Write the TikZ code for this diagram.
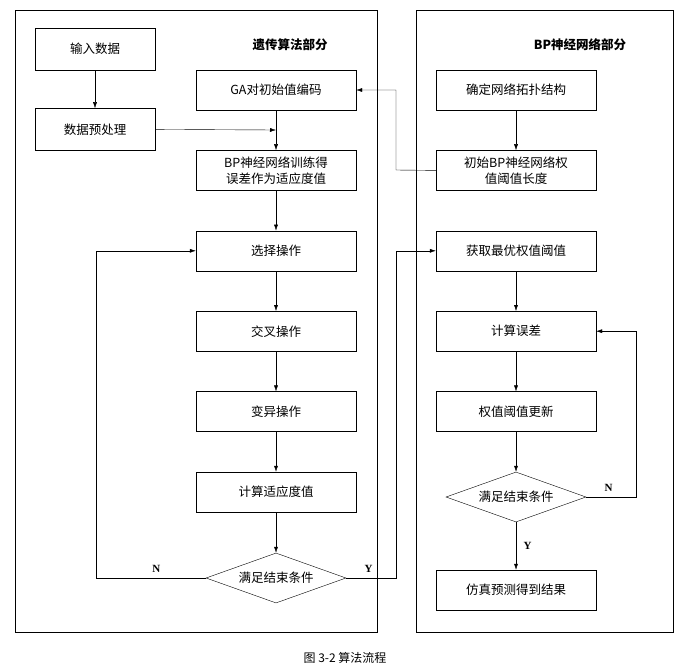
\documentclass[tikz,border=0pt]{standalone}
\usepackage{fontspec}
\setmainfont{Liberation Serif}
\newfontfamily\cjk{Noto Sans CJK SC}
\usetikzlibrary{positioning,shapes.geometric,arrows.meta}
\tikzset{
  step box/.style = {
    shape = rectangle,
    draw,
    fill = white,
    text centered,
    minimum width = 160pt,
    minimum height = 40pt,
    inner sep = 1pt,
    font = \cjk\fontsize{12.5}{16}\selectfont,
    },
  small box/.style = {step box, minimum width = 120pt, minimum height = 42pt},
  test/.style = {
    shape = diamond,
    draw,
    fill = white,
    aspect = 2.8,
    inner sep = 0pt,
    minimum width = 140pt,
    minimum height = 50pt,
    font = \cjk\fontsize{12.5}{16}\selectfont,
    },
  panel/.style = {draw, thin},
  flow/.style = {-{Latex[length=6pt,width=4pt]}},
  answer/.style = {font = \bfseries\fontsize{11}{13}\selectfont},
  title/.style = {font = \cjk\bfseries\fontsize{12.5}{16}\selectfont},
}
\begin{document}
\begin{tikzpicture}[x=1pt,y=-1pt]
    \useasboundingbox (0,0) rectangle (691,670);

    % panels
    \draw[panel] (15,10) rectangle (377,632);
    \draw[panel] (416,10) rectangle (673,632);
    \node[title] (gatitle) at (290,45) {遗传算法部分};
    \node[title] (bptitle) at (580,45) {BP神经网络部分};

    % genetic algorithm part
    \node[small box] (input) at (95,49) {输入数据};
    \node[small box, below=38pt of input] (prep) {数据预处理};

    \node[step box] (code) at (276,90) {GA对初始值编码};
    \node[step box, below=40pt of code, align=center] (fit) {BP神经网络训练得\\误差作为适应度值};
    \node[step box, below=40pt of fit] (sel) {选择操作};
    \node[step box, below=40pt of sel] (cross) {交叉操作};
    \node[step box, below=40pt of cross] (mut) {变异操作};
    \node[step box, below=40pt of mut] (eval) {计算适应度值};
    \node[test] (stop) at (276,578) {满足结束条件};

    % neural network part
    \node[step box] (topo) at (516,90) {确定网络拓扑结构};
    \node[step box, below=40pt of topo, align=center] (init) {初始BP神经网络权\\值阈值长度};
    \node[step box, below=40pt of init] (best) {获取最优权值阈值};
    \node[step box, below=40pt of best] (err) {计算误差};
    \node[step box, below=40pt of err] (upd) {权值阈值更新};
    \node[test] (done) at (516,497) {满足结束条件};
    \node[step box] (sim) at (516,590) {仿真预测得到结果};

    \coordinate (join) at (276,130);

    % Paths
    \draw[flow] (input) -- (prep);
    \draw[flow] (prep.east) -- (join);
    \draw[flow] (code) -- (fit);
    \draw[flow] (fit) -- (sel);
    \draw[flow] (sel) -- (cross);
    \draw[flow] (cross) -- (mut);
    \draw[flow] (mut) -- (eval);
    \draw[flow] (eval) -- (stop);
    \draw[flow] (stop.west) -- node[answer, pos=.45, above=2pt] {N} (96,578) |- (sel.west);
    \draw[flow] (stop.east) -- node[answer, pos=.45, above=2pt] {Y} (396,578) |- (best.west);

    \draw[flow] (topo) -- (init);
    \draw[flow] (init.west) -- (396,170) |- (code.east);
    \draw[flow] (best) -- (err);
    \draw[flow] (err) -- (upd);
    \draw[flow] (upd) -- (done);
    \draw[flow] (done.east) -- node[answer, pos=.45, above=2pt] {N} (636,497) |- (err.east);
    \draw[flow] (done) -- node[answer, right=4pt] {Y} (sim);

    \node[font=\cjk\fontsize{12}{14}\selectfont] (caption) at (345,658) {图 3-2 算法流程};
\end{tikzpicture}
\end{document}
